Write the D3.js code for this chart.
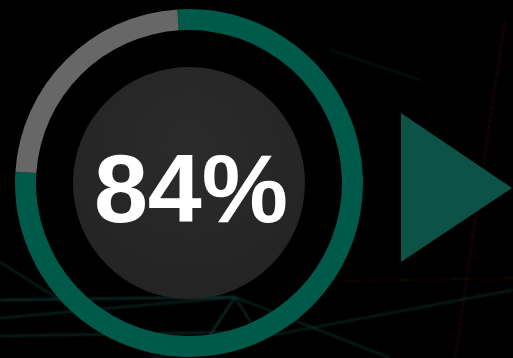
<!DOCTYPE html>
<html>
<head>
<meta charset="utf-8">
<script src="https://cdn.jsdelivr.net/npm/d3@7"></script>
<style>
  html, body { margin: 0; padding: 0; background: #000; }
  svg { display: block; }
</style>
</head>
<body>
<svg id="chart" width="513" height="358"></svg>
<script>
// values
let segNames = ["done", "rest"]
let segValues = [77.1, 22.9]
let segColors = ["#005a4a", "#676767"]
let labelText = "84%"

// faint network lines in the background (decoration only)
let bgLines = [
    [[0, 300], [235, 297], "#1d5a4c"], [[0, 318], [235, 297], "#17493f"],
    [[0, 336], [240, 332], "#17493f"], [[235, 297], [210, 335], "#1d5a4c"],
    [[235, 297], [262, 340], "#17493f"], [[235, 297], [390, 358], "#15423a"],
    [[0, 262], [60, 300], "#123c33"], [[150, 358], [513, 290], "#123c33"],
    [[505, 20], [455, 358], "#2a1208"], [[300, 282], [513, 278], "#22100a"],
    [[330, 50], [420, 80], "#0c2a24"]
]

let svg = d3.select("#chart")
let width = 513
let height = 358

svg.append("rect").attr("width", width).attr("height", height).attr("fill", "#000")

let defs = svg.append("defs")
defs.append("filter").attr("id", "soft")
    .append("feGaussianBlur").attr("stdDeviation", 1.2)

let grad = defs.append("radialGradient").attr("id", "innerGrad")
    .attr("cx", "50%").attr("cy", "35%").attr("r", "70%")
grad.append("stop").attr("offset", "0%").attr("stop-color", "#2b2b2b")
grad.append("stop").attr("offset", "100%").attr("stop-color", "#232323")

//background lines
svg.append("g")
    .attr("filter", "url(#soft)")
    .selectAll("line")
    .data(bgLines)
    .join("line")
    .attr("x1", d => d[0][0]).attr("y1", d => d[0][1])
    .attr("x2", d => d[1][0]).attr("y2", d => d[1][1])
    .attr("stroke", d => d[2])
    .attr("stroke-width", 1.5)
    .attr("opacity", 0.7)

let cx = 189
let cy = 183
let outerR = 174
let ringW = 21
let innerCircleR = 116

let g = svg.append("g").attr("transform", "translate(" + cx + "," + cy + ")")

// ring
let pie = d3.pie()
    .sort(null)
    .value(d => d.value)
    .startAngle(-0.067)
    .endAngle(2 * Math.PI - 0.067)
let arc = d3.arc().innerRadius(outerR - ringW).outerRadius(outerR)
let color = d3.scaleOrdinal().domain(segNames).range(segColors)

g.selectAll("path.seg")
    .data(pie(segValues.map((v, i) => ({ name: segNames[i], value: v }))))
    .join("path")
    .attr("class", "seg")
    .attr("d", arc)
    .attr("fill", d => color(d.data.name))

// inner disc
g.append("circle").attr("r", innerCircleR).attr("fill", "url(#innerGrad)")

// label
g.append("text")
    .attr("x", 2)
    .attr("y", 39)
    .attr("text-anchor", "middle")
    .attr("font-family", "'Liberation Sans', Arial, sans-serif")
    .attr("font-weight", "bold")
    .attr("font-size", 97)
    .attr("fill", "#ffffff")
    .text(labelText)

// arrow on the right
let tri = d3.line()
svg.append("path")
    .attr("d", tri([[401, 113], [512, 188], [401, 262]]) + "Z")
    .attr("fill", "#0c5246")
</script>
</body>
</html>
